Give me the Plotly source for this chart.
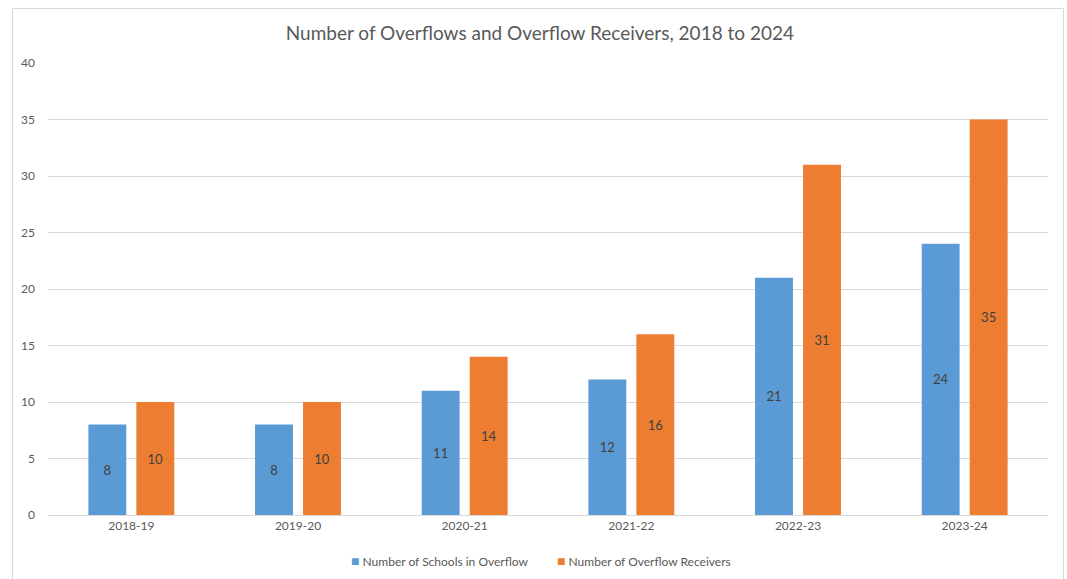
import plotly.graph_objects as go

categories = ["2018-19", "2019-20", "2020-21", "2021-22", "2022-23", "2023-24"]
schools_in_overflow = [8, 8, 11, 12, 21, 24]
overflow_receivers = [10, 10, 14, 16, 31, 35]
series_names = ["Number of Schools in Overflow", "Number of Overflow Receivers"]
series_colors = ["#5B9BD5", "#ED7D31"]
y_ticks = [0, 5, 10, 15, 20, 25, 30, 35, 40]

FONT = "Lato"
fig = go.Figure()
for name, vals, color in zip(series_names, [schools_in_overflow, overflow_receivers], series_colors):
    fig.add_trace(go.Bar(
        x=categories, y=vals, name=name,
        marker=dict(color=color, line=dict(width=0)),
        text=[str(v) for v in vals], textposition="inside",
        insidetextanchor="middle",
        textfont=dict(family=FONT, size=13, color="#404040"),
        hoverinfo="x+y+name", showlegend=False,
    ))

# legend drawn as text with coloured square glyphs
legend_x = [(349 - 48) / 1000, (555 - 48) / 1000]
annotations = []
for name, color, lx in zip(series_names, series_colors, legend_x):
    annotations.append(dict(
        xref="paper", yref="paper", x=lx, y=(515 - 560) / 452,
        xanchor="left", yanchor="middle", showarrow=False,
        text=f"<span style='color:{color};font-size:14px'>■</span> {name}",
        font=dict(family=FONT, size=12, color="#595959"),
    ))

fig.update_layout(
    width=1067, height=579,
    margin=dict(l=48, r=19, t=63, b=64, autoexpand=False),
    paper_bgcolor="white", plot_bgcolor="white",
    barmode="group", bargap=0.424, bargroupgap=0.21,
    title=dict(text="Number of Overflows and Overflow Receivers, 2018 to 2024",
               x=0.506, xanchor="center", y=1 - 33 / 579, yanchor="middle",
               yref="container",
               font=dict(family=FONT, size=19, color="#595959")),
    font=dict(family=FONT, color="#595959"),
    showlegend=False,
    annotations=annotations,
    xaxis=dict(showgrid=False, showline=True, linecolor="#d9d9d9", linewidth=1,
               ticks="", tickfont=dict(family=FONT, size=12, color="#595959"),
               fixedrange=True, automargin=False),
    yaxis=dict(range=[0, 40], tickvals=y_ticks, showgrid=True, gridcolor="#d9d9d9",
               gridwidth=1, zeroline=False, showline=False, ticks="",
               ticklabelstandoff=12, automargin=False,
               tickfont=dict(family=FONT, size=12, color="#595959"), fixedrange=True),
    shapes=[dict(type="rect", xref="paper", yref="paper",
                 x0=(12.5 - 48) / 1000, x1=(1063.5 - 48) / 1000,
                 y0=-0.3, y1=(515 - 8.5) / 452,
                 line=dict(color="#d9d9d9", width=1), fillcolor="rgba(0,0,0,0)",
                 layer="below")],
)

fig.write_html("out.html", config={"displayModeBar": False},
               post_script="document.body.style.margin='0';document.body.style.overflow='hidden';")
